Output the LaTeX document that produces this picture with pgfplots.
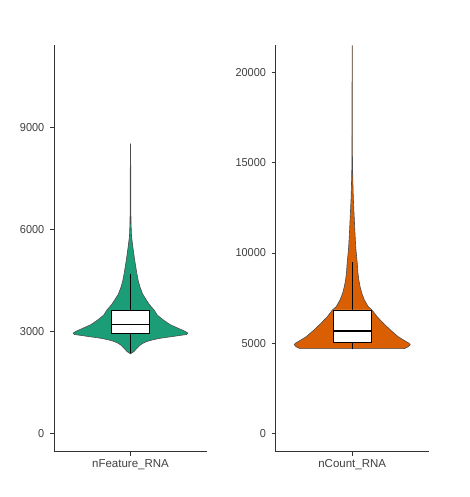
\documentclass[border=0pt]{standalone}
\usepackage{fontspec}
\setmainfont{Liberation Sans}
\usepackage{pgfplots}
\pgfplotsset{compat=1.18}
\definecolor{dgreen}{HTML}{1B9E77}
\definecolor{dorange}{HTML}{D95F02}
\pgfplotsset{
  myax/.style={
    scale only axis, width=153pt, height=406.7pt,
    axis x line*=bottom, axis y line*=left,
    axis line style={black!80, line width=0.8pt},
    xmin=0.4, xmax=1.6, xtick={1},
    tick align=outside, major tick length=4pt,
    tick style={black!80, line width=0.8pt},
    tick label style={font=\fontsize{11.5}{13}\selectfont, text=black!75},
    yticklabel style={xscale=0.95, xshift=-2.5pt},
    /pgf/number format/assume math mode=true,
    /pgf/number format/set thousands separator={},
    scaled y ticks=false,
    clip=true,
  },
}
\begin{document}
\begin{tikzpicture}
\path[use as bounding box] (0,0) rectangle (469pt,497pt);
\begin{axis}[myax, at={(54pt,45.3pt)}, anchor=south west,
  ymin=-540, ymax=11430, ytick={0,3000,6000,9000},
  xticklabels={nFeature\_RNA}]
\addplot[fill=dgreen, draw=black!70, line width=0.6pt] coordinates {
(1,2340) (1.024,2400) (1.05,2500) (1.076,2600) (1.097,2650) (1.125,2700) (1.17,2750) (1.235,2800) (1.33,2850) (1.44,2910) (1.45,2950) (1.43,3000) (1.37,3100) (1.31,3200) (1.26,3330) (1.21,3480) (1.185,3630) (1.15,3780) (1.125,3920) (1.095,4100) (1.075,4300) (1.06,4500) (1.05,4700) (1.037,5000) (1.029,5200) (1.018,5500) (1.008,5800) (1.004,6200) (1.002,7000) (1.0015,8000) (1,8530)
(0.9985,8000) (0.998,7000) (0.996,6200) (0.992,5800) (0.982,5500) (0.971,5200) (0.963,5000) (0.95,4700) (0.94,4500) (0.925,4300) (0.905,4100) (0.875,3920) (0.85,3780) (0.815,3630) (0.79,3480) (0.74,3330) (0.69,3200) (0.63,3100) (0.57,3000) (0.55,2950) (0.56,2910) (0.67,2850) (0.765,2800) (0.83,2750) (0.875,2700) (0.903,2650) (0.924,2600) (0.95,2500) (0.976,2400) (1,2340)
};
% whiskers
\addplot[black, line width=0.8pt] coordinates {(1,2360) (1,2941)};
\addplot[black, line width=0.8pt] coordinates {(1,3627) (1,4676)};
% box
\addplot[fill=white, draw=black, line width=0.8pt] coordinates {(0.85,2941) (1.15,2941) (1.15,3627) (0.85,3627) (0.85,2941)};
\addplot[black, line width=1.8pt] coordinates {(0.85,3205) (1.15,3205)};
\end{axis}
\begin{axis}[myax, at={(275.7pt,45.3pt)}, anchor=south west,
  ymin=-1020, ymax=21536, ytick={0,5000,10000,15000,20000},
  xticklabels={nCount\_RNA}]
\addplot[fill=dorange, draw=black!70, line width=0.6pt] coordinates {
(1.41,4700) (1.44,4800) (1.455,4920) (1.445,5000) (1.42,5100) (1.36,5360) (1.30,5730) (1.245,6100) (1.195,6470) (1.155,6840) (1.125,7030) (1.095,7400) (1.075,7770) (1.062,8130) (1.052,8500) (1.045,8900) (1.04,9400) (1.032,10000) (1.028,10300) (1.021,11200) (1.015,12100) (1.009,13000) (1.005,14000) (1.002,15000) (1.0015,17000) (1.001,21500)
(0.999,21500) (0.9985,17000) (0.998,15000) (0.995,14000) (0.991,13000) (0.985,12100) (0.979,11200) (0.972,10300) (0.968,10000) (0.96,9400) (0.955,8900) (0.948,8500) (0.938,8130) (0.925,7770) (0.905,7400) (0.875,7030) (0.845,6840) (0.805,6470) (0.755,6100) (0.70,5730) (0.64,5360) (0.58,5100) (0.555,5000) (0.545,4920) (0.56,4800) (0.59,4700) (1.41,4700)
};
\addplot[black, line width=0.8pt] coordinates {(1,4660) (1,5030)};
\addplot[black, line width=0.8pt] coordinates {(1,6842) (1,9523)};
\addplot[fill=white, draw=black, line width=0.8pt] coordinates {(0.85,5030) (1.15,5030) (1.15,6842) (0.85,6842) (0.85,5030)};
\addplot[black, line width=1.8pt] coordinates {(0.85,5694) (1.15,5694)};
\end{axis}
\end{tikzpicture}
\end{document}
